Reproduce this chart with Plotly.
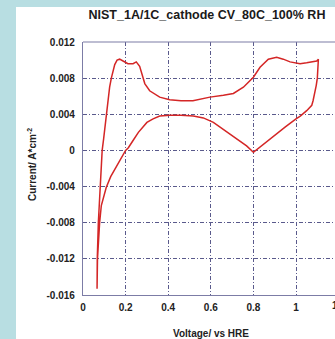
import plotly.graph_objects as go

# Cyclic voltammogram (V vs HRE, A/cm^2)
voltage = [
    0.066, 0.067, 0.072, 0.080, 0.090, 0.097, 0.109, 0.125, 0.133, 0.149, 0.160, 0.172,
    0.188, 0.211, 0.235, 0.250, 0.266, 0.282, 0.290, 0.313, 0.360, 0.407, 0.460, 0.516,
    0.549, 0.596, 0.659, 0.706, 0.753, 0.800, 0.831, 0.870, 0.909, 0.940, 0.972, 1.019,
    1.050, 1.080, 1.097, 1.105,
    1.103, 1.100, 1.095, 1.089, 1.080, 1.074, 1.060, 1.050, 1.020, 1.000, 0.950, 0.900,
    0.850, 0.800, 0.768, 0.750, 0.700, 0.650, 0.612, 0.565, 0.518, 0.460, 0.408, 0.360,
    0.329, 0.300, 0.282, 0.260, 0.235, 0.213, 0.200, 0.180, 0.156, 0.130, 0.109, 0.095,
    0.086, 0.078, 0.072, 0.068, 0.066,
]
current = [
    -0.0153, -0.0120, -0.0080, -0.0041, 0.0000, 0.0013, 0.0040, 0.0070, 0.0080, 0.0095, 0.0100, 0.0101,
    0.0099, 0.0096, 0.0096, 0.0098, 0.0093, 0.0081, 0.0074, 0.0066, 0.0059, 0.0056, 0.0055, 0.0055,
    0.0057, 0.0059, 0.0061, 0.0063, 0.0070, 0.0081, 0.0092, 0.0101, 0.0103, 0.0101, 0.0098, 0.0096,
    0.0097, 0.0098, 0.0099, 0.0101,
    0.0090, 0.0080, 0.0072, 0.0064, 0.0055, 0.0050, 0.0046, 0.0044, 0.0038, 0.0035, 0.0026, 0.0017,
    0.0007, -0.0002, 0.0005, 0.0008, 0.0016, 0.0024, 0.0031, 0.0036, 0.0038, 0.0039, 0.0039, 0.0038,
    0.0035, 0.0031, 0.0026, 0.0020, 0.0011, 0.0003, 0.0000, -0.0008, -0.0017, -0.0029, -0.0041, -0.0052,
    -0.0061, -0.0080, -0.0098, -0.0120, -0.0153,
]

x_tick_vals = [0, 0.2, 0.4, 0.6, 0.8, 1.0]
x_tick_text = ["0", "0.2", "0.4", "0.6", "0.8", "1"]
x_extra_tick = 1.2
y_tick_vals = [0.012, 0.008, 0.004, 0, -0.004, -0.008, -0.012, -0.016]
y_tick_text = ["0.012", "0.008", "0.004", "0", "-0.004", "-0.008", "-0.012", "-0.016"]

title_text = "NIST_1A/1C_cathode CV_80C_100% RH"
x_title = "Voltage/ vs HRE"
y_title = "Current/ A*cm<sup>-2</sup>"

W, H = 335, 339
ML, MR, MT, MB = 83, 0, 42, 44
XMAX = 1.183
FONT = "Liberation Sans, Arial, sans-serif"
GRID = "#5a5a8c"
FRAME = "#7c7ca6"

fig = go.Figure()
fig.add_trace(go.Scatter(
    x=voltage, y=current, mode="lines",
    line=dict(color="#d42626", width=1.5), showlegend=False,
))

fig.update_layout(
    width=W, height=H,
    margin=dict(l=ML, r=MR, t=MT, b=MB),
    paper_bgcolor="#b8dee2",
    plot_bgcolor="#ffffff",
    font=dict(family=FONT, color="#222222"),
    title=dict(text=title_text, x=0.492, xref="paper", xanchor="center",
               y=1 - 15 / H, yref="container", yanchor="middle",
               font=dict(size=12.5, weight="bold", color="#1a1a1a", family=FONT)),
    xaxis=dict(range=[0, XMAX], tickvals=x_tick_vals, ticktext=x_tick_text,
               showgrid=True, gridcolor=GRID, gridwidth=1, griddash="4px,2px,1px,2px",
               zeroline=False, showline=True, linecolor=FRAME, linewidth=1.2,
               ticks="", ticklabelstandoff=3,
               tickfont=dict(size=10, weight="bold", family=FONT, color="#222222")),
    yaxis=dict(range=[-0.016, 0.012], tickvals=y_tick_vals, ticktext=y_tick_text,
               showgrid=True, gridcolor=GRID, gridwidth=1, griddash="4px,2px,1px,2px",
               zeroline=False, showline=True, linecolor=FRAME, linewidth=1.2,
               ticks="", ticklabelstandoff=5,
               tickfont=dict(size=10, weight="bold", family=FONT, color="#222222")),
)

plot_w = W - ML - MR
plot_h = H - MT - MB

# white panel behind the chart
fig.add_shape(type="rect", xref="paper", yref="paper",
              x0=(16 - ML) / plot_w, x1=1.2, y0=-0.4, y1=(H - MB - 7) / plot_h,
              fillcolor="#ffffff", line=dict(width=0), layer="below")
# top frame line
fig.add_shape(type="line", xref="paper", yref="paper", x0=0, x1=1, y0=1, y1=1,
              line=dict(color=FRAME, width=1.2))

# tick label that falls just beyond the window edge
fig.add_annotation(text=str(x_extra_tick), xref="paper", yref="paper",
                   x=x_extra_tick / XMAX, y=0, yshift=-10, xanchor="center", yanchor="middle",
                   showarrow=False,
                   font=dict(size=10, weight="bold", family=FONT, color="#222222"))

fig.add_annotation(text=x_title, xref="paper", yref="paper",
                   x=(211 - ML) / plot_w, y=-(333 - (H - MB)) / plot_h,
                   xanchor="center", yanchor="middle", showarrow=False,
                   font=dict(size=10, weight="bold", family=FONT, color="#222222"))
fig.add_annotation(text=y_title, xref="paper", yref="paper",
                   x=(32 - ML) / plot_w, y=((H - MB) - 165) / plot_h,
                   xanchor="center", yanchor="middle", textangle=-90, showarrow=False,
                   font=dict(size=10, weight="bold", family=FONT, color="#222222"))

fig.write_html("out.html")
